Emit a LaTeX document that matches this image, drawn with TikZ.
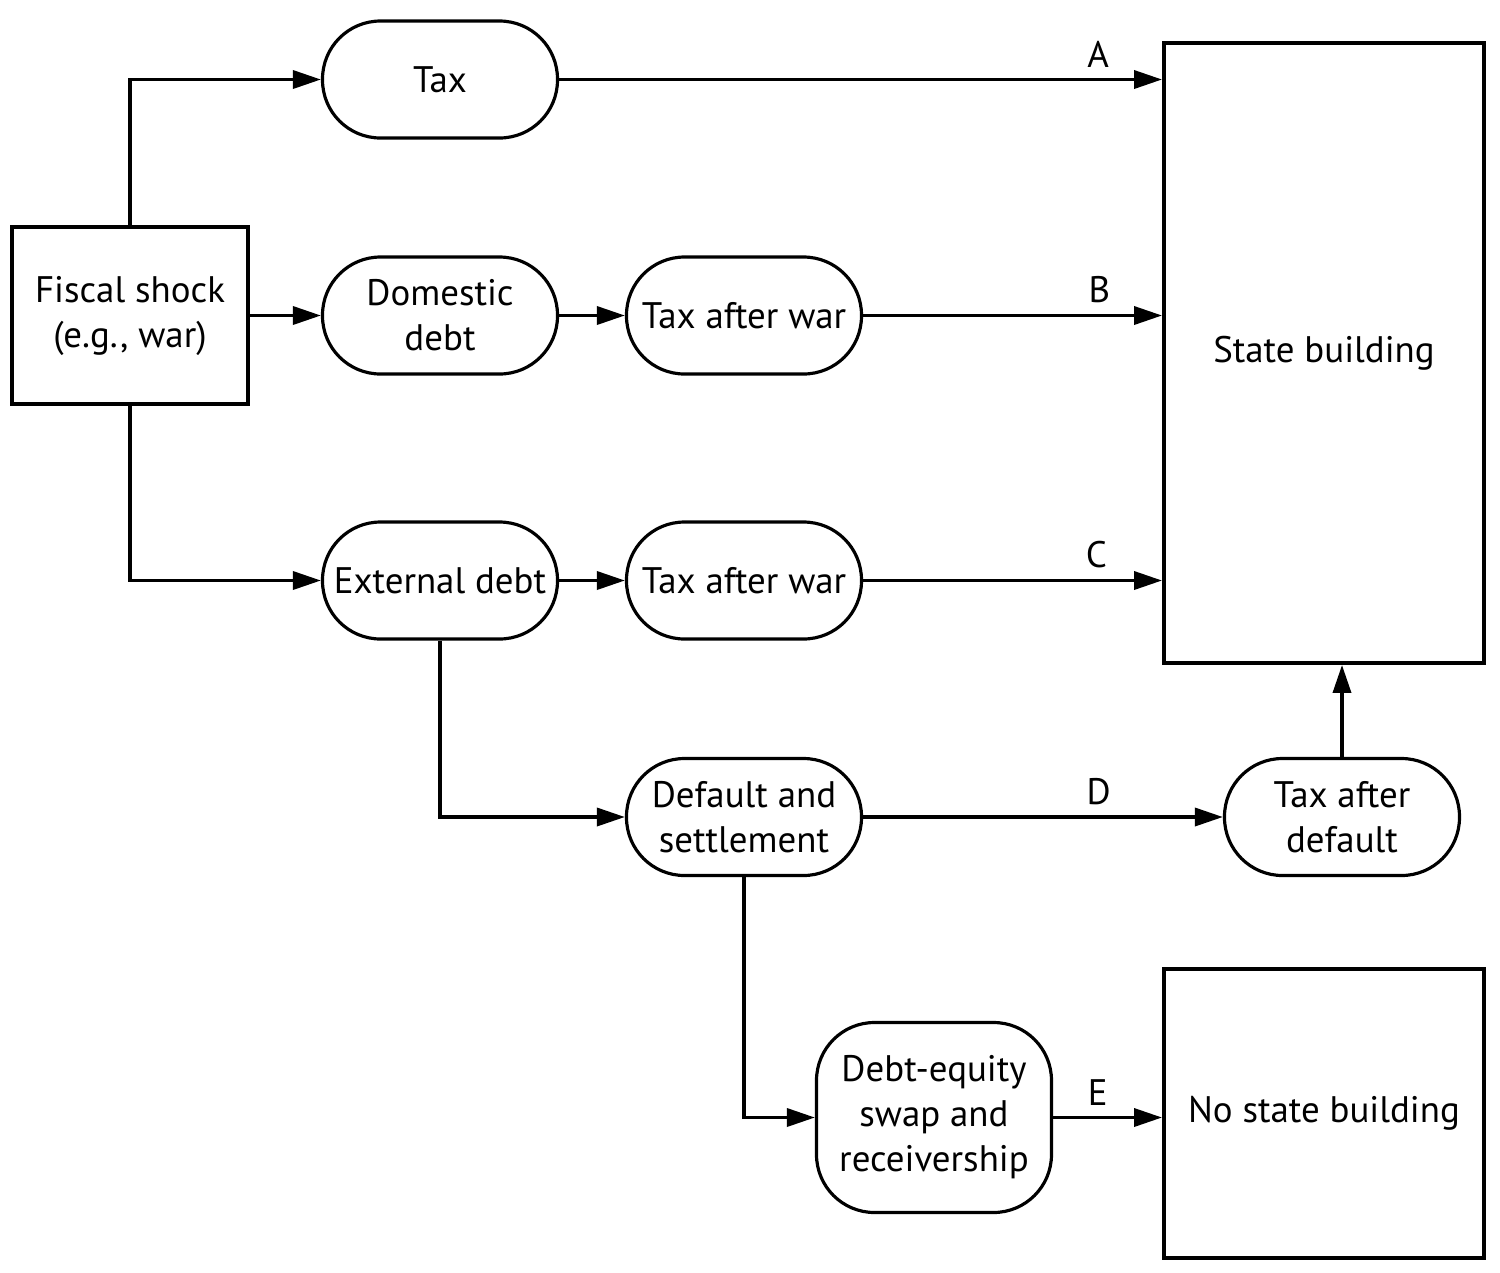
\documentclass[tikz,border=0pt]{standalone}
\usepackage{fontspec}
\setmainfont{PT Sans}
\usetikzlibrary{arrows.meta}
\begin{document}
\begin{tikzpicture}
[boxDecorate/.style={shape=rectangle,draw,line width=1.1pt,align=center},
  pillDecorate/.style={shape=rectangle,draw,line width=0.9pt,rounded corners=0.58cm,
    minimum width=2.35cm,minimum height=1.17cm,align=center,inner sep=1pt},
  lineDecorate/.style={line width=1pt,-{Triangle[length=0.28cm,width=0.18cm]}},
  labelDecorate/.style={above,inner sep=3pt},
  font=\fontsize{10.5}{12.8}\selectfont]
\useasboundingbox (0,0) rectangle (15,-12.72);
%% boxes
\node (shock) at (1.30,-3.155) [boxDecorate,minimum width=2.36cm,minimum height=1.77cm] {Fiscal shock\\(e.g., war)};
\node (state) at (13.24,-3.53) [boxDecorate,minimum width=3.20cm,minimum height=6.20cm] {State building};
\node (nostate) at (13.24,-11.135) [boxDecorate,minimum width=3.20cm,minimum height=2.89cm] {No state building};
%% rounded nodes
\foreach \nodename/\x/\y/\txt in {
  tax/4.40/-0.795/Tax, domestic/4.40/-3.155/{Domestic\\debt},
  warB/7.44/-3.155/Tax after war, external/4.40/-5.805/External debt,
  warC/7.44/-5.805/Tax after war, default/7.44/-8.17/{Default and\\settlement},
  taxdefault/13.42/-8.17/{Tax after\\default}}
{
  \node (\nodename) at (\x,\y) [pillDecorate] {\txt};
}
\node (swap) at (9.34,-11.175) [pillDecorate,minimum height=1.90cm] {Debt-equity\\swap and\\receivership};
%% connectors
\draw[lineDecorate] (shock.north) |- (tax.west);
\draw[lineDecorate] (shock.east) -- (domestic.west);
\draw[lineDecorate] (shock.south) |- (external.west);
\draw[lineDecorate] (domestic.east) -- (warB.west);
\draw[lineDecorate] (external.east) -- (warC.west);
\draw[lineDecorate] (tax.east) -- node[labelDecorate,pos=0.894] {A} (tax.east -| state.west);
\draw[lineDecorate] (warB.east) -- node[labelDecorate,pos=0.79] {B} (warB.east -| state.west);
\draw[lineDecorate] (warC.east) -- node[labelDecorate,pos=0.78] {C} (warC.east -| state.west);
\draw[lineDecorate] (external.south) |- (default.west);
\draw[lineDecorate] (default.east) -- node[labelDecorate,pos=0.655] {D} (taxdefault.west);
\draw[lineDecorate] (taxdefault.north) -- (taxdefault.north |- state.south);
\draw[lineDecorate] (default.south) |- (swap.west);
\draw[lineDecorate] (swap.east) -- node[labelDecorate,pos=0.41] {E} (swap.east -| nostate.west);
\end{tikzpicture}
\end{document}
